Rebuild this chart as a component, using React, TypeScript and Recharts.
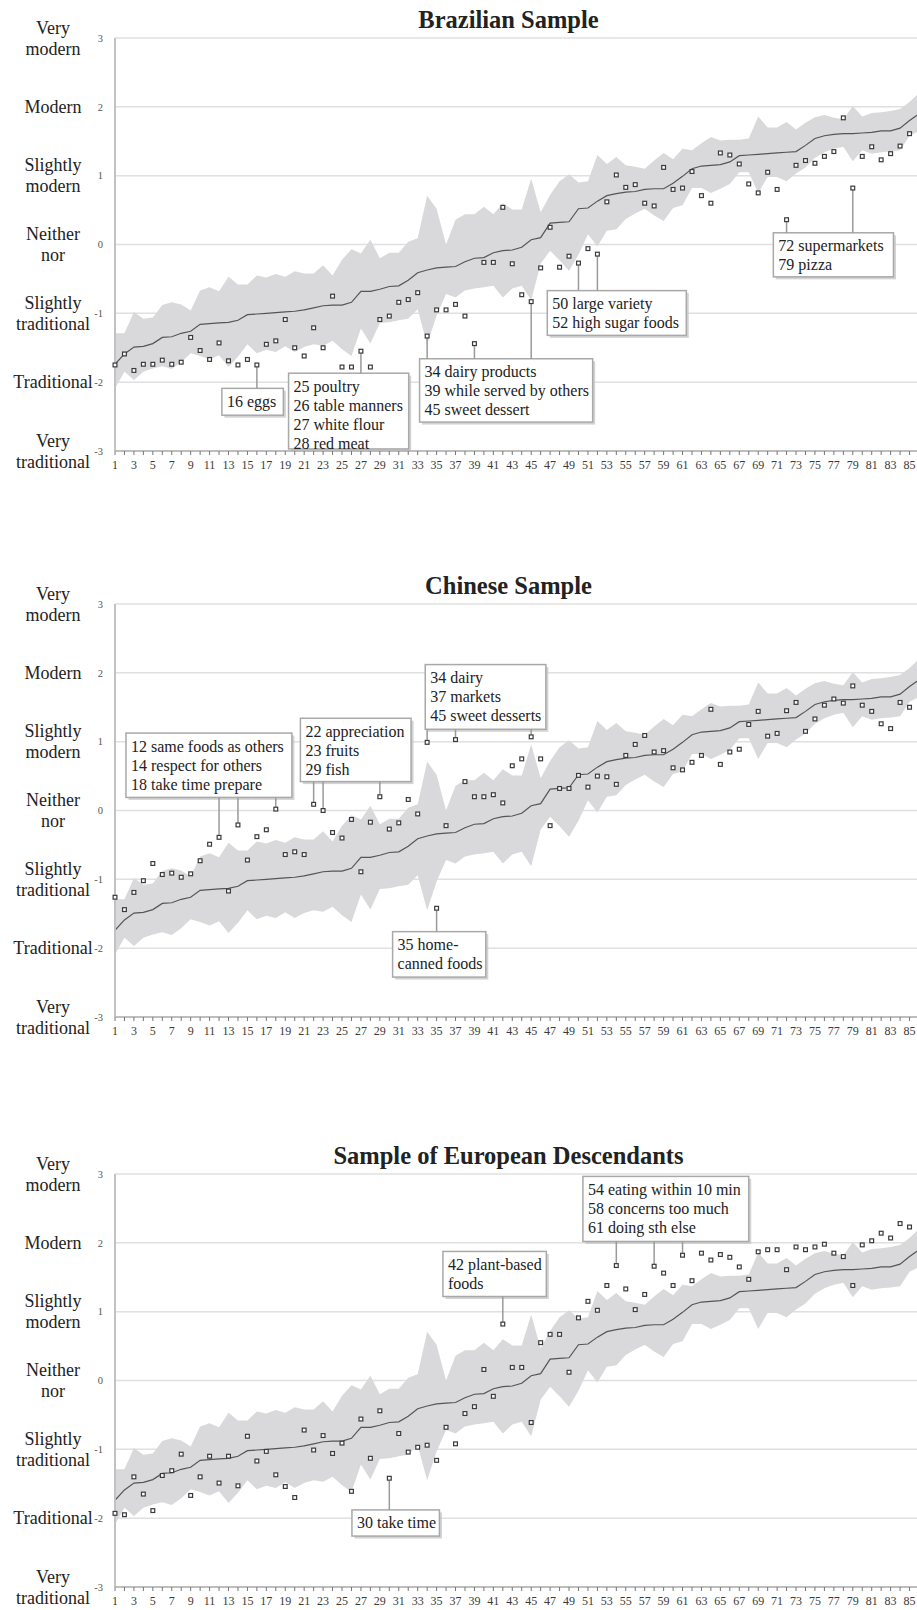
import React from 'react';
import {
  ComposedChart,
  Area,
  Line,
  Scatter,
  XAxis,
  YAxis,
  CartesianGrid,
  ReferenceLine,
  ReferenceArea,
} from 'recharts';

// Item numbers along the x axis (1..86, the last one is cut by the page edge)
const items = Array.from({ length: 86 }, (_, i) => i + 1);

// Scale values and their verbal anchors
const yTicks = [-3, -2, -1, 0, 1, 2, 3];
const scaleWords = [
  ['Very', 'traditional'],
  ['Traditional'],
  ['Slightly', 'traditional'],
  ['Neither', 'nor'],
  ['Slightly', 'modern'],
  ['Modern'],
  ['Very', 'modern'],
];

// Overall mean per item (same in every panel)
const meanLine = [
  -1.74, -1.59, -1.49, -1.48, -1.44, -1.35, -1.34, -1.29, -1.26, -1.16,
  -1.15, -1.14, -1.13, -1.1, -1.02, -1.01, -1.0, -0.99, -0.98, -0.97,
  -0.95, -0.92, -0.89, -0.88, -0.88, -0.84, -0.68, -0.68, -0.65, -0.61,
  -0.6, -0.52, -0.41, -0.37, -0.34, -0.33, -0.32, -0.25, -0.2, -0.19,
  -0.12, -0.09, -0.08, -0.04, 0.07, 0.1, 0.31, 0.32, 0.33, 0.52,
  0.53, 0.63, 0.71, 0.74, 0.76, 0.77, 0.8, 0.81, 0.81, 0.89,
  0.99, 1.1, 1.14, 1.15, 1.16, 1.2, 1.29, 1.3, 1.31, 1.32,
  1.33, 1.34, 1.35, 1.44, 1.54, 1.58, 1.6, 1.61, 1.61, 1.62,
  1.63, 1.65, 1.65, 1.69, 1.8, 1.9,
];

// Range band (upper / lower edge)
const bandHigh = [
  -1.29, -1.29, -0.98, -1.08, -1.06, -0.88, -0.84, -0.87, -0.96, -0.67,
  -0.62, -0.68, -0.47, -0.58, -0.58, -0.45, -0.48, -0.43, -0.47, -0.39,
  -0.42, -0.42, -0.3, -0.45, -0.22, -0.07, -0.13, 0.07, -0.2, -0.12,
  -0.12, 0.04, 0.09, 0.71, 0.52, 0.0, 0.36, 0.44, 0.44, 0.55,
  0.44, 0.6, 0.51, 0.51, 0.96, 0.47, 0.72, 0.92, 1.02, 0.9,
  0.92, 1.3, 1.17, 1.27, 1.15, 1.13, 1.1, 1.22, 1.33, 1.24,
  1.39, 1.37, 1.47, 1.56, 1.51, 1.52, 1.52, 1.54, 1.86, 1.7,
  1.7, 1.78, 1.67, 1.77, 1.85, 1.88, 1.84, 1.82, 2.01, 1.86,
  1.91, 1.92, 1.94, 1.97, 2.07, 2.2,
];
const bandLow = [
  -2.09, -1.85, -1.97, -1.85, -1.8, -1.77, -1.81, -1.71, -1.58, -1.62,
  -1.67, -1.61, -1.78, -1.63, -1.45, -1.58, -1.53, -1.56, -1.48, -1.56,
  -1.49, -1.45, -1.47, -1.4, -1.52, -1.62, -1.22, -1.44, -1.14, -1.13,
  -1.1, -1.08, -0.94, -1.45, -1.03, -0.72, -0.77, -0.67, -0.64, -0.62,
  -0.6, -0.77, -0.64, -0.6, -0.81, -0.28, -0.09, -0.23, -0.38, -0.15,
  0.15, -0.03, 0.2, 0.22, 0.37, 0.45, 0.52, 0.42, 0.34, 0.53,
  0.57, 0.82, 0.82, 0.75, 0.81, 0.88, 1.05, 1.05, 0.75, 0.98,
  0.98, 0.92, 1.03, 1.12, 1.26, 1.34, 1.39, 1.42, 1.21, 1.37,
  1.32, 1.34, 1.35, 1.37, 1.58, 1.65,
];

// Sample means per item
const brazilPoints = [
  -1.75, -1.59, -1.83, -1.74, -1.74, -1.68, -1.74, -1.71, -1.35, -1.54,
  -1.67, -1.43, -1.69, -1.75, -1.67, -1.75, -1.45, -1.4, -1.09, -1.5,
  -1.62, -1.21, -1.5, -0.75, -1.78, -1.78, -1.55, -1.78, -1.09, -1.04,
  -0.84, -0.8, -0.7, -1.33, -0.95, -0.95, -0.87, -1.04, -1.44, -0.26,
  -0.26, 0.54, -0.28, -0.73, -0.83, -0.34, 0.25, -0.33, -0.17, -0.27,
  -0.06, -0.14, 0.62, 1.01, 0.83, 0.87, 0.6, 0.56, 1.12, 0.8,
  0.82, 1.06, 0.71, 0.6, 1.33, 1.3, 1.17, 0.88, 0.75, 1.05,
  0.8, 0.36, 1.15, 1.22, 1.18, 1.28, 1.35, 1.84, 0.82, 1.28,
  1.42, 1.23, 1.32, 1.43, 1.61, null,
];
const chinesePoints = [
  -1.26, -1.44, -1.19, -1.02, -0.77, -0.93, -0.91, -0.97, -0.92, -0.73,
  -0.49, -0.39, -1.17, -0.21, -0.72, -0.38, -0.28, 0.02, -0.64, -0.6,
  -0.64, 0.09, 0.0, -0.32, -0.4, -0.13, -0.89, -0.17, 0.2, -0.27,
  -0.18, 0.16, -0.05, 0.99, -1.42, -0.22, 1.03, 0.42, 0.2, 0.2,
  0.23, 0.11, 0.65, 0.75, 1.07, 0.75, -0.22, 0.32, 0.32, 0.51,
  0.34, 0.5, 0.49, 0.38, 0.8, 0.96, 1.09, 0.85, 0.87, 0.62,
  0.59, 0.7, 0.8, 1.47, 0.67, 0.85, 0.89, 1.25, 1.44, 1.08,
  1.12, 1.45, 1.57, 1.15, 1.33, 1.53, 1.62, 1.56, 1.81, 1.53,
  1.44, 1.26, 1.19, 1.57, 1.5, null,
];
const europeanPoints = [
  -1.93, -1.95, -1.4, -1.65, -1.89, -1.38, -1.31, -1.07, -1.67, -1.4,
  -1.1, -1.49, -1.1, -1.53, -0.81, -1.17, -1.03, -1.37, -1.54, -1.7,
  -0.72, -1.01, -0.8, -1.06, -0.91, -1.61, -0.56, -1.13, -0.44, -1.42,
  -0.77, -1.04, -0.97, -0.94, -1.16, -0.68, -0.92, -0.48, -0.38, 0.16,
  -0.23, 0.82, 0.19, 0.19, -0.61, 0.55, 0.67, 0.67, 0.12, 0.91,
  1.15, 1.02, 1.38, 1.67, 1.33, 1.03, 1.25, 1.66, 1.56, 1.38,
  1.82, 1.45, 1.85, 1.75, 1.83, 1.79, 1.65, 1.47, 1.87, 1.9,
  1.9, 1.61, 1.94, 1.9, 1.94, 1.98, 1.85, 1.8, 1.38, 1.97,
  2.03, 2.14, 2.07, 2.28, 2.23, null,
];

type Note = { x1: number; x2: number; top: number; bottom: number; lines: string[]; items: number[] };

// Callout boxes, placed in chart units
const brazilNotes: Note[] = [
  { x1: 12.3, x2: 18.8, top: -2.09, bottom: -2.48, lines: ['16 eggs'], items: [16] },
  { x1: 19.35, x2: 32.05, top: -1.87, bottom: -2.97, lines: ['25 poultry', '26 table manners', '27 white flour', '28 red meat'], items: [27] },
  { x1: 33.2, x2: 51.5, top: -1.66, bottom: -2.58, lines: ['34 dairy products', '39 while served by others', '45 sweet dessert'], items: [34, 39, 45] },
  { x1: 46.7, x2: 61.4, top: -0.67, bottom: -1.32, lines: ['50 large variety', '52 high sugar foods'], items: [50, 52] },
  { x1: 70.6, x2: 83.3, top: 0.17, bottom: -0.47, lines: ['72 supermarkets', '79 pizza'], items: [72, 79] },
];
const chineseNotes: Note[] = [
  { x1: 2.16, x2: 19.7, top: 1.125, bottom: 0.19, lines: ['12 same foods as others', '14 respect for others', '18 take time prepare'], items: [12, 14, 18] },
  { x1: 20.6, x2: 32.3, top: 1.34, bottom: 0.42, lines: ['22 appreciation', '23 fruits', '29 fish'], items: [22, 23, 29] },
  { x1: 33.8, x2: 46.55, top: 2.12, bottom: 1.18, lines: ['34 dairy', '37 markets', '45 sweet desserts'], items: [34, 37, 45] },
  { x1: 30.35, x2: 40.2, top: -1.76, bottom: -2.42, lines: ['35 home-', 'canned foods'], items: [35] },
];
const europeanNotes: Note[] = [
  { x1: 26.05, x2: 35.3, top: -1.88, bottom: -2.26, lines: ['30 take time'], items: [30] },
  { x1: 35.67, x2: 46.6, top: 1.875, bottom: 1.22, lines: ['42 plant-based', 'foods'], items: [42] },
  { x1: 50.47, x2: 68.0, top: 2.965, bottom: 2.02, lines: ['54 eating within 10 min', '58 concerns too much', '61 doing sth else'], items: [54, 58, 61] },
];

const FONT = '"Liberation Serif", "Times New Roman", serif';

// x tick: a mark at every item, a label at every odd one
const XTick = (p: any) => {
  const v = p.payload.value;
  if (v % 2 === 0) return <g />;
  return (
    <text x={p.x} y={p.y} dy="0.71em" textAnchor="middle" fontSize={12} fill="#3a3a3a" fontFamily={FONT}>
      {v}
    </text>
  );
};

// y tick: the number next to the axis plus the verbal label further left
const YTick = (p: any) => {
  const v = p.payload.value;
  const words = scaleWords[yTicks.indexOf(v)] || [];
  return (
    <g>
      <text x={p.x} y={p.y} dy="0.35em" textAnchor="end" fontSize={10.5} fill="#555" fontFamily={FONT}>
        {v}
      </text>
      {words.map((w, i) => (
        <text
          key={w}
          x={53}
          y={p.y + (i - (words.length - 1) / 2) * 21}
          dy="0.35em"
          textAnchor="middle"
          fontSize={18}
          fill="#222"
          fontFamily={FONT}
        >
          {w}
        </text>
      ))}
    </g>
  );
};

// small hollow square marker
const Square = (p: any) => {
  if (p.cx == null || p.cy == null || isNaN(p.cy)) return <g />;
  return <rect x={p.cx - 1.9} y={p.cy - 1.9} width={3.8} height={3.8} fill="#fff" stroke="#3a3a3a" strokeWidth={1.2} />;
};

// callout box with a soft shadow
const boxShape = (lines: string[]) => (p: any) => {
  const { x, y, width, height } = p;
  return (
    <g>
      <rect x={x + 2.5} y={y + 2.5} width={width} height={height} fill="#c4c4c4" opacity={0.75} />
      <rect x={x} y={y} width={width} height={height} fill="#fff" stroke="#a9a9a9" strokeWidth={1.5} />
      {lines.map((t, i) => (
        <text key={t} x={x + 5} y={y + 18.5 + i * 19} fontSize={16} fill="#222" fontFamily={FONT}>
          {t}
        </text>
      ))}
    </g>
  );
};

type PanelProps = { title: string; top: number; points: (number | null)[]; notes: Note[] };

const Panel: React.FC<PanelProps> = ({ title, top, points, notes }) => {
  const data = items.map((n, i) => ({ n, band: [bandLow[i], bandHigh[i]], mean: meanLine[i] }));
  const pointData = items
    .map((n, i) => ({ n, pt: points[i] }))
    .filter((d) => d.pt != null);

  return (
    <div style={{ position: 'absolute', left: 0, top }}>
      <div
        style={{
          position: 'absolute',
          left: 308.5,
          width: 400,
          top: 0,
          textAlign: 'center',
          fontFamily: FONT,
          fontWeight: 'bold',
          fontSize: 24.5,
          lineHeight: '24px',
          color: '#222',
        }}
      >
        {title}
      </div>
      <ComposedChart width={925} height={473} data={data} margin={{ top: 30, right: 6, bottom: 0, left: 0 }}>
        <CartesianGrid vertical={false} stroke="#e0e0e0" strokeWidth={1.5} />
        <XAxis
          dataKey="n"
          type="number"
          domain={[1, 86]}
          ticks={items}
          interval={0}
          height={30}
          tick={<XTick />}
          tickSize={4}
          tickMargin={5}
          tickLine={{ stroke: '#777' }}
          axisLine={{ stroke: '#b0b0b0', strokeWidth: 1.5 }}
        />
        <YAxis
          type="number"
          domain={[-3, 3]}
          ticks={yTicks}
          interval={0}
          width={115}
          tick={<YTick />}
          tickSize={0}
          tickMargin={12}
          tickLine={false}
          axisLine={{ stroke: '#c2c2c2', strokeWidth: 2 }}
        />
        <Area
          type="linear"
          dataKey="band"
          stroke="none"
          fill="#d9d9db"
          fillOpacity={1}
          isAnimationActive={false}
          activeDot={false}
        />
        <Line type="linear" dataKey="mean" stroke="#555" strokeWidth={1.2} dot={false} isAnimationActive={false} />
        {notes.map((note) =>
          note.items.map((n) => {
            const v = points[n - 1] as number;
            const end = v > note.top ? note.top : note.bottom;
            const start = v + (end > v ? 0.03 : -0.03);
            return (
              <ReferenceLine
                key={`${note.lines[0]}-${n}`}
                segment={[
                  { x: n, y: start },
                  { x: n, y: end },
                ]}
                stroke="#9a9a9a"
                strokeWidth={1.5}
              />
            );
          })
        )}
        <Scatter data={pointData} dataKey="pt" shape={Square} isAnimationActive={false} />
        {notes.map((note) => (
          <ReferenceArea
            key={note.lines[0]}
            x1={note.x1}
            x2={note.x2}
            y1={note.bottom}
            y2={note.top}
            shape={boxShape(note.lines)}
          />
        ))}
      </ComposedChart>
    </div>
  );
};

const App: React.FC = () => {
  return (
    <div
      style={{
        position: 'absolute',
        left: 0,
        top: 0,
        width: 917,
        height: 1610,
        overflow: 'hidden',
        background: '#fff',
        fontFamily: FONT,
      }}
    >
      <Panel title="Brazilian Sample" top={8.3} points={brazilPoints} notes={brazilNotes} />
      <Panel title="Chinese Sample" top={574.3} points={chinesePoints} notes={chineseNotes} />
      <Panel title="Sample of European Descendants" top={1144.3} points={europeanPoints} notes={europeanNotes} />
    </div>
  );
};

export default App;
